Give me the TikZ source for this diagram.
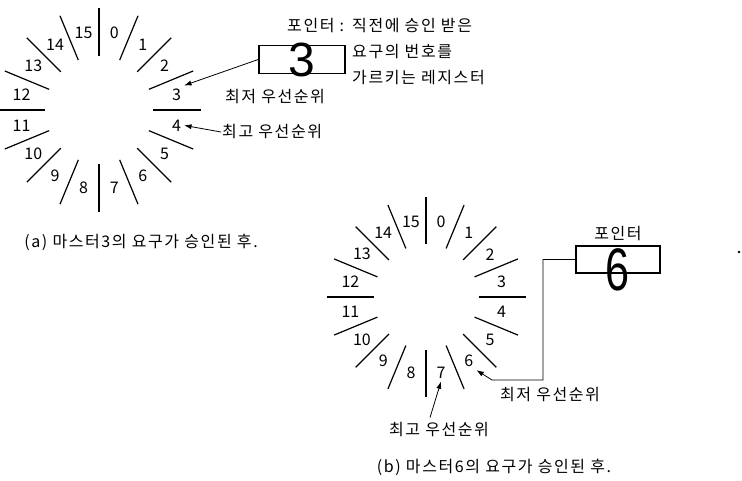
\documentclass[tikz,border=0pt]{standalone}
\usepackage{fontspec}
\setmainfont{Noto Sans CJK KR}
\newfontfamily\widefont[LetterSpace=10]{Noto Sans CJK KR}
\newfontfamily\handfont{Liberation Sans}
\usetikzlibrary{arrows.meta,positioning}

\begin{document}
\begin{tikzpicture}[
  x=1pt, y=-1pt,
  font=\fontsize{16}{19}\selectfont,
  spoke/.style={line width=1.2pt},
  num/.style={inner sep=3pt},
  reg/.style={
    draw,
    line width=1.6pt,
    minimum width=86pt,
    minimum height=28pt,
    inner sep=0pt
  },
  hand/.style={font=\handfont\fontsize{48}{48}\selectfont, inner sep=0pt},
  label/.style={inner sep=1pt, font=\widefont\fontsize{16}{19}\selectfont},
  arrow/.style={-{Latex[length=2.6mm,width=1.8mm]},line width=0.8pt}
]
\useasboundingbox (0,0) rectangle (742,481);

% (a) after master 3 granted
\coordinate (ca) at (99,110);
\foreach \k in {0,...,15} {
  \draw[spoke] (ca) ++(22.5*\k-90:54) -- ++(22.5*\k-90:48);
  \path (ca) ++(22.5*\k-78.75:79) node[num] (a\k) {\k};
}
\node[reg] (ptrA) at (302,59.5) {};
\node[hand] (handA) at (302,60) {3};
\node[anchor=north west, inner sep=0pt] (noteA) at (287,13) {%
  \widefont\fontsize{16}{26}\selectfont
  \begin{tabular}{@{}l@{\hspace{8pt}}l@{}}
  포인터 : & 직전에 승인 받은\\
           & 요구의 번호를\\
           & 가르키는 레지스터
  \end{tabular}};
\node[label] (lowA) at (275,97) {최저 우선순위};
\node[label, anchor=west] (highA) at (221,132) {최고 우선순위};
\node[label] (capA) at (141,242) {(a) 마스터3의 요구가 승인된 후.};

\draw[arrow] (ptrA.west) -- (a3.north east);
\draw[arrow] (highA.west) -- (a4.east);

% (b) after master 6 granted
\coordinate (cb) at (426,297);
\foreach \k in {0,...,15} {
  \draw[spoke] (cb) ++(22.5*\k-90:52.5) -- ++(22.5*\k-90:47);
  \path (cb) ++(22.5*\k-78.75:77) node[num] (b\k) {\k};
}
\node[reg, line width=1.2pt, minimum width=84pt, minimum height=27pt] (ptrB) at (618,259.5) {};
\node[label, above=3pt of ptrB] (nameB) {포인터};
\node[hand, xscale=0.72, font=\handfont\fontsize{60}{60}\selectfont] (handB) at (618,270) {6};
\coordinate (bendB) at (543,380);
\coordinate (footB) at (492,380);
\node[label] (lowB) at (550,395) {최저 우선순위};
\node[label] (highB) at (439,430) {최고 우선순위};
\node[label] (capB) at (494,467) {(b) 마스터6의 요구가 승인된 후.};

\draw[arrow] (ptrB.west) -| (bendB) -- (footB) -- (b6.south east);
\draw[arrow] ([xshift=-9pt, yshift=4pt]highB.north) -- (b7.south);

\fill (739,252) circle (1.4pt);
\end{tikzpicture}
\end{document}
